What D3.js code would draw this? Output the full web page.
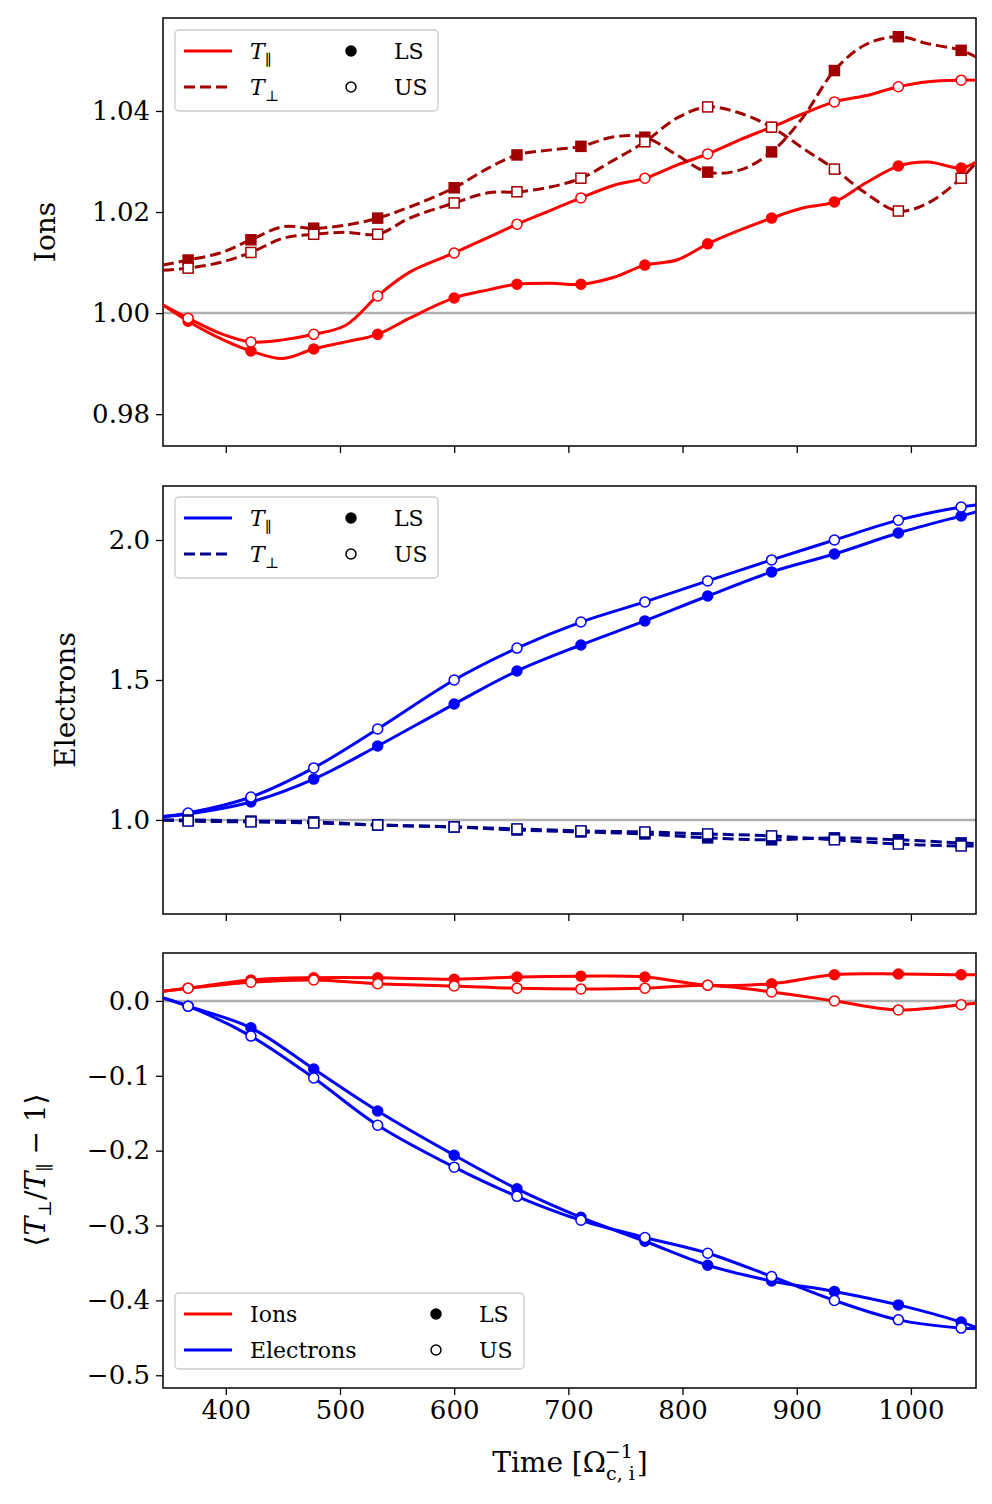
<!DOCTYPE html><html><head><meta charset="utf-8">
<script src="https://cdn.jsdelivr.net/npm/d3@7"></script>
<style>body{margin:0;background:#fff}text{font-family:"DejaVu Serif",serif}</style></head><body>
<svg id="c" width="992" height="1504"></svg>
<script>
const markerTimes=[367,422,477,533,600,655,711,767,822,878,933,989,1044];
const ionTimes=[345,367,395,422,450,477,505,533,561,600,630,655,685,711,740,767,795,822,850,878,905,933,960,989,1015,1044,1057];
const ionParLS=[1.0016,0.9984,0.995,0.9925,0.991,0.9929,0.9943,0.9958,0.999,1.003,1.0046,1.0057,1.0059,1.0057,1.0071,1.0095,1.0105,1.0137,1.0164,1.0188,1.0208,1.022,1.0257,1.0291,1.0299,1.0287,1.0299];
const ionParUS=[1.0016,0.999,0.996,0.9943,0.9947,0.9958,0.9976,1.0034,1.0081,1.0119,1.015,1.0176,1.0204,1.0228,1.0253,1.0267,1.0293,1.0315,1.0343,1.0368,1.0394,1.0418,1.043,1.0448,1.0458,1.0461,1.0461];
const ionPerpLS=[1.0095,1.0105,1.0119,1.0145,1.0171,1.0168,1.0174,1.0188,1.021,1.0248,1.0287,1.0313,1.0323,1.033,1.0349,1.0348,1.0313,1.0279,1.0283,1.0319,1.0386,1.048,1.0531,1.0547,1.0533,1.052,1.0507];
const ionPerpUS=[1.0085,1.0089,1.01,1.012,1.0148,1.0156,1.016,1.0156,1.0188,1.0218,1.0238,1.024,1.025,1.0267,1.0303,1.0339,1.0386,1.0408,1.0396,1.0368,1.0327,1.0285,1.0238,1.0202,1.0218,1.0267,1.0297];
const eTimes=[345,367,422,477,533,600,655,711,767,822,878,933,989,1044,1057];
const eParLS=[1.012,1.021,1.064,1.146,1.264,1.414,1.532,1.625,1.711,1.8,1.886,1.95,2.025,2.086,2.1];
const eParUS=[1.012,1.025,1.082,1.186,1.325,1.5,1.614,1.707,1.779,1.854,1.929,2.0,2.071,2.118,2.125];
const ePerpLS=[1.0,1.0,0.996,0.993,0.982,0.975,0.964,0.957,0.95,0.936,0.929,0.936,0.929,0.918,0.915];
const ePerpUS=[1.0,0.996,0.993,0.989,0.982,0.975,0.968,0.961,0.957,0.95,0.943,0.929,0.914,0.907,0.907];
const anIonLS=[0.013,0.017,0.028,0.031,0.031,0.029,0.032,0.033,0.032,0.021,0.023,0.035,0.036,0.035,0.035];
const anIonUS=[0.013,0.017,0.025,0.028,0.023,0.02,0.017,0.016,0.017,0.021,0.012,0.0,-0.012,-0.005,-0.003];
const anElLS=[0.004,-0.007,-0.036,-0.091,-0.147,-0.206,-0.251,-0.289,-0.321,-0.353,-0.374,-0.388,-0.406,-0.429,-0.436];
const anElUS=[0.004,-0.007,-0.047,-0.103,-0.166,-0.222,-0.261,-0.293,-0.316,-0.337,-0.368,-0.4,-0.426,-0.437,-0.438];
const xTicks=[400,500,600,700,800,900,1000];

const svg=d3.select("#c");
const L=163,R=976;
const x=d3.scaleLinear().domain([345,1057]).range([L,R]);
const RED="#ff0000",DRED="#a00000",BLUE="#0000ff",DBLUE="#00008b";
const panels=[
 {top:18,bot:446,dom:[0.9737,1.0584],ticks:[0.98,1.00,1.02,1.04],fmt:d3.format(".2f"),label:"Ions",lx:55},
 {top:486,bot:914,dom:[0.664,2.193],ticks:[1.0,1.5,2.0],fmt:d3.format(".1f"),label:"Electrons",lx:75},
 {top:953,bot:1388,dom:[-0.517,0.064],ticks:[0,-0.1,-0.2,-0.3,-0.4,-0.5],fmt:d=>(d<0?"\u2212":"")+Math.abs(d).toFixed(1),label:"",lx:45}
];
const clipId=i=>"clip"+i;
panels.forEach((p,i)=>{
 p.y=d3.scaleLinear().domain(p.dom).range([p.bot,p.top]);
 svg.append("clipPath").attr("id",clipId(i)).append("rect").attr("x",L).attr("y",p.top).attr("width",R-L).attr("height",p.bot-p.top);
 const g=svg.append("g");
 const refv=i==2?0:1;
 g.append("line").attr("x1",L).attr("x2",R).attr("y1",p.y(refv)).attr("y2",p.y(refv)).attr("stroke","#b0b0b0").attr("stroke-width",2.5);
 const ya=svg.append("g").attr("transform",`translate(${L},0)`).call(d3.axisLeft(p.y).tickValues(p.ticks).tickFormat(p.fmt).tickSize(7).tickPadding(6));
 ya.selectAll("text").attr("font-size",26).attr("font-family","DejaVu Serif");
 const xa=svg.append("g").attr("transform",`translate(0,${p.bot})`).call(d3.axisBottom(x).tickValues(xTicks).tickSize(7).tickPadding(6).tickFormat(i==2?d3.format("d"):""));
 xa.selectAll("text").attr("font-size",26).attr("font-family","DejaVu Serif");
 [ya,xa].forEach(a=>{a.select(".domain").remove();a.selectAll("line").attr("stroke-width",1.3);});
 svg.append("rect").attr("x",L).attr("y",p.top).attr("width",R-L).attr("height",p.bot-p.top).attr("fill","none").attr("stroke","#000").attr("stroke-width",1.5);
 if(p.label) svg.append("text").attr("transform",`translate(${p.lx},${(p.top+p.bot)/2}) rotate(-90)`).attr("text-anchor","middle").attr("font-size",28).text(p.label);
 p.g=svg.append("g").attr("clip-path",`url(#${clipId(i)})`);
});
svg.append("text").attr("transform",`translate(45,1170) rotate(-90)`).attr("text-anchor","middle").attr("font-size",28)
 .html('⟨<tspan font-style="italic">T</tspan><tspan font-size="18" dy="6">⊥</tspan><tspan dy="-6">/</tspan><tspan font-style="italic">T</tspan><tspan font-size="18" dy="6">∥</tspan><tspan dy="-6"> − 1⟩</tspan>');
svg.append("text").attr("x",570).attr("y",1472).attr("text-anchor","middle").attr("font-size",28)
 .html('Time [Ω<tspan font-size="19" dy="8">c, i</tspan><tspan font-size="19" dx="-30" dy="-22">−1</tspan><tspan dy="14" dx="4">]</tspan>');

function series(pi,times,vals,color,dash,shape,filled){
 const p=panels[pi];
 const line=d3.line().x((d,k)=>x(times[k])).y(d=>p.y(d)).curve(d3.curveCatmullRom);
 p.g.append("path").datum(vals).attr("d",line).attr("fill","none").attr("stroke",color).attr("stroke-width",3).attr("stroke-dasharray",dash?"11,5":null);
 const pts=times.map((t,k)=>[t,vals[k]]).filter(d=>markerTimes.includes(d[0]));
 const sel=p.g.selectAll(null).data(pts).enter();
 if(shape=="c") sel.append("circle").attr("cx",d=>x(d[0])).attr("cy",d=>p.y(d[1])).attr("r",5).attr("fill",filled?color:"#fff").attr("stroke",color).attr("stroke-width",1.5);
 else sel.append("rect").attr("x",d=>x(d[0])-5).attr("y",d=>p.y(d[1])-5).attr("width",10).attr("height",10).attr("fill",filled?color:"#fff").attr("stroke",color).attr("stroke-width",1.5);
}
series(0,ionTimes,ionParLS,RED,false,"c",true);
series(0,ionTimes,ionParUS,RED,false,"c",false);
series(0,ionTimes,ionPerpLS,DRED,true,"s",true);
series(0,ionTimes,ionPerpUS,DRED,true,"s",false);
series(1,eTimes,eParLS,BLUE,false,"c",true);
series(1,eTimes,eParUS,BLUE,false,"c",false);
series(1,eTimes,ePerpLS,DBLUE,true,"s",true);
series(1,eTimes,ePerpUS,DBLUE,true,"s",false);
series(2,eTimes,anIonLS,RED,false,"c",true);
series(2,eTimes,anIonUS,RED,false,"c",false);
series(2,eTimes,anElLS,BLUE,false,"c",true);
series(2,eTimes,anElUS,BLUE,false,"c",false);

function legend(x0,y0,w,h,items,mx){
 const g=svg.append("g");
 g.append("rect").attr("x",x0).attr("y",y0).attr("width",w).attr("height",h).attr("rx",4).attr("fill","#fff").attr("stroke","#ccc").attr("stroke-width",1.3);
 items.forEach((it,k)=>{
  const yy=y0+21+k*36;
  g.append("line").attr("x1",x0+9).attr("x2",x0+57).attr("y1",yy).attr("y2",yy).attr("stroke",it.c).attr("stroke-width",3).attr("stroke-dasharray",it.d?"11,5":null);
  g.append("text").attr("x",x0+75).attr("y",yy+8).attr("font-size",22).html(it.t);
  g.append("circle").attr("cx",x0+mx).attr("cy",yy).attr("r",5).attr("fill",k==0?"#000":"#fff").attr("stroke","#000").attr("stroke-width",1.5);
  g.append("text").attr("x",x0+mx+43).attr("y",yy+8).attr("font-size",22).text(k==0?"LS":"US");
 });
}
const Tpar='<tspan font-style="italic">T</tspan><tspan font-size="15" dy="6">∥</tspan>';
const Tperp='<tspan font-style="italic">T</tspan><tspan font-size="15" dy="6">⊥</tspan>';
legend(175,30,263,81,[{c:RED,t:Tpar},{c:DRED,d:1,t:Tperp}],176);
legend(175,497,263,81,[{c:BLUE,t:Tpar},{c:DBLUE,d:1,t:Tperp}],176);
legend(175,1293,349,76,[{c:RED,t:"Ions"},{c:BLUE,t:"Electrons"}],261);
</script></body></html>
